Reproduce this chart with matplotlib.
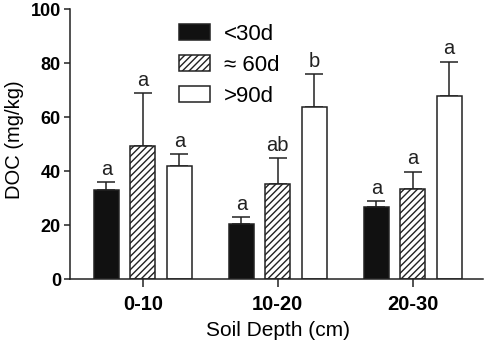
import matplotlib
matplotlib.use("Agg")
import matplotlib.pyplot as plt
import numpy as np

plt.rcParams['font.family'] = ['Liberation Sans', 'DejaVu Sans']
plt.rcParams['hatch.linewidth'] = 1.0

depths = ['0-10', '10-20', '20-30']
series_names = ['<30d', '\u2248 60d', '>90d']
means = {
    '<30d': [33.0, 20.4, 27.0],
    '\u2248 60d': [49.5, 35.2, 33.6],
    '>90d': [42.0, 63.7, 68.0],
}
errors = {
    '<30d': [3.1, 2.6, 2.1],
    '\u2248 60d': [19.6, 9.7, 6.3],
    '>90d': [4.5, 12.4, 12.7],
}
letters = {
    '<30d': ['a', 'a', 'a'],
    '\u2248 60d': ['a', 'ab', 'a'],
    '>90d': ['a', 'b', 'a'],
}
yticks = [0, 20, 40, 60, 80, 100]

styles = [
    dict(facecolor='#111111', hatch=None),
    dict(facecolor='white', hatch='/////'),
    dict(facecolor='white', hatch=None),
]

fig = plt.figure(figsize=(4.84, 3.45), dpi=100)
ax = fig.add_axes([0.1446, 0.19, 0.853, 0.7825])

x = np.arange(len(depths))
width = 0.185
offset = 0.27
edge = '#222222'
handles = []
for i, name in enumerate(series_names):
    xs = x + (i - 1) * offset
    b = ax.bar(xs, means[name], width=width, color=styles[i]['facecolor'],
               edgecolor=edge, linewidth=1.1, hatch=styles[i]['hatch'],
               label=name, zorder=2)
    handles.append(b)
    ax.errorbar(xs, means[name], yerr=[np.zeros(3), errors[name]], fmt='none',
                ecolor=edge, elinewidth=1.1, capsize=6.5, capthick=1.1, zorder=1)
    for xi, m, e, lab in zip(xs, means[name], errors[name], letters[name]):
        ax.text(xi, m + e + 1.2, lab, ha='center', va='bottom', fontsize=14.5,
                color='#222222')

ax.set_xlim(-0.54, 2.52)
ax.set_ylim(0, 100)
ax.set_yticks(yticks)
ax.set_xticks(x)
ax.set_xticklabels(depths, fontsize=14.5, fontweight='bold')
ax.set_yticklabels([str(t) for t in yticks], fontsize=13, fontweight='bold')
for s in ['top', 'right']:
    ax.spines[s].set_visible(False)
for s in ['left', 'bottom']:
    ax.spines[s].set_linewidth(1.1)
    ax.spines[s].set_color('#222222')
ax.tick_params(axis='both', direction='out', length=4.5, width=1.1, color='#222222', pad=2)
ax.tick_params(axis='x', length=6, pad=5)

ax.set_xlabel('Soil Depth (cm)', fontsize=15)
ax.set_ylabel('DOC (mg/kg)', fontsize=14.5)
ax.xaxis.set_label_coords(0.504, -0.155)
ax.yaxis.set_label_coords(-0.112, 0.516)

leg = ax.legend(handles=handles, labels=series_names, loc='upper left',
                bbox_to_anchor=(0.232, 0.995), frameon=False, fontsize=16,
                handlelength=1.4, handleheight=0.72, handletextpad=0.6,
                labelspacing=0.45, borderaxespad=0.2)

fig.savefig('out.png', dpi=100)
